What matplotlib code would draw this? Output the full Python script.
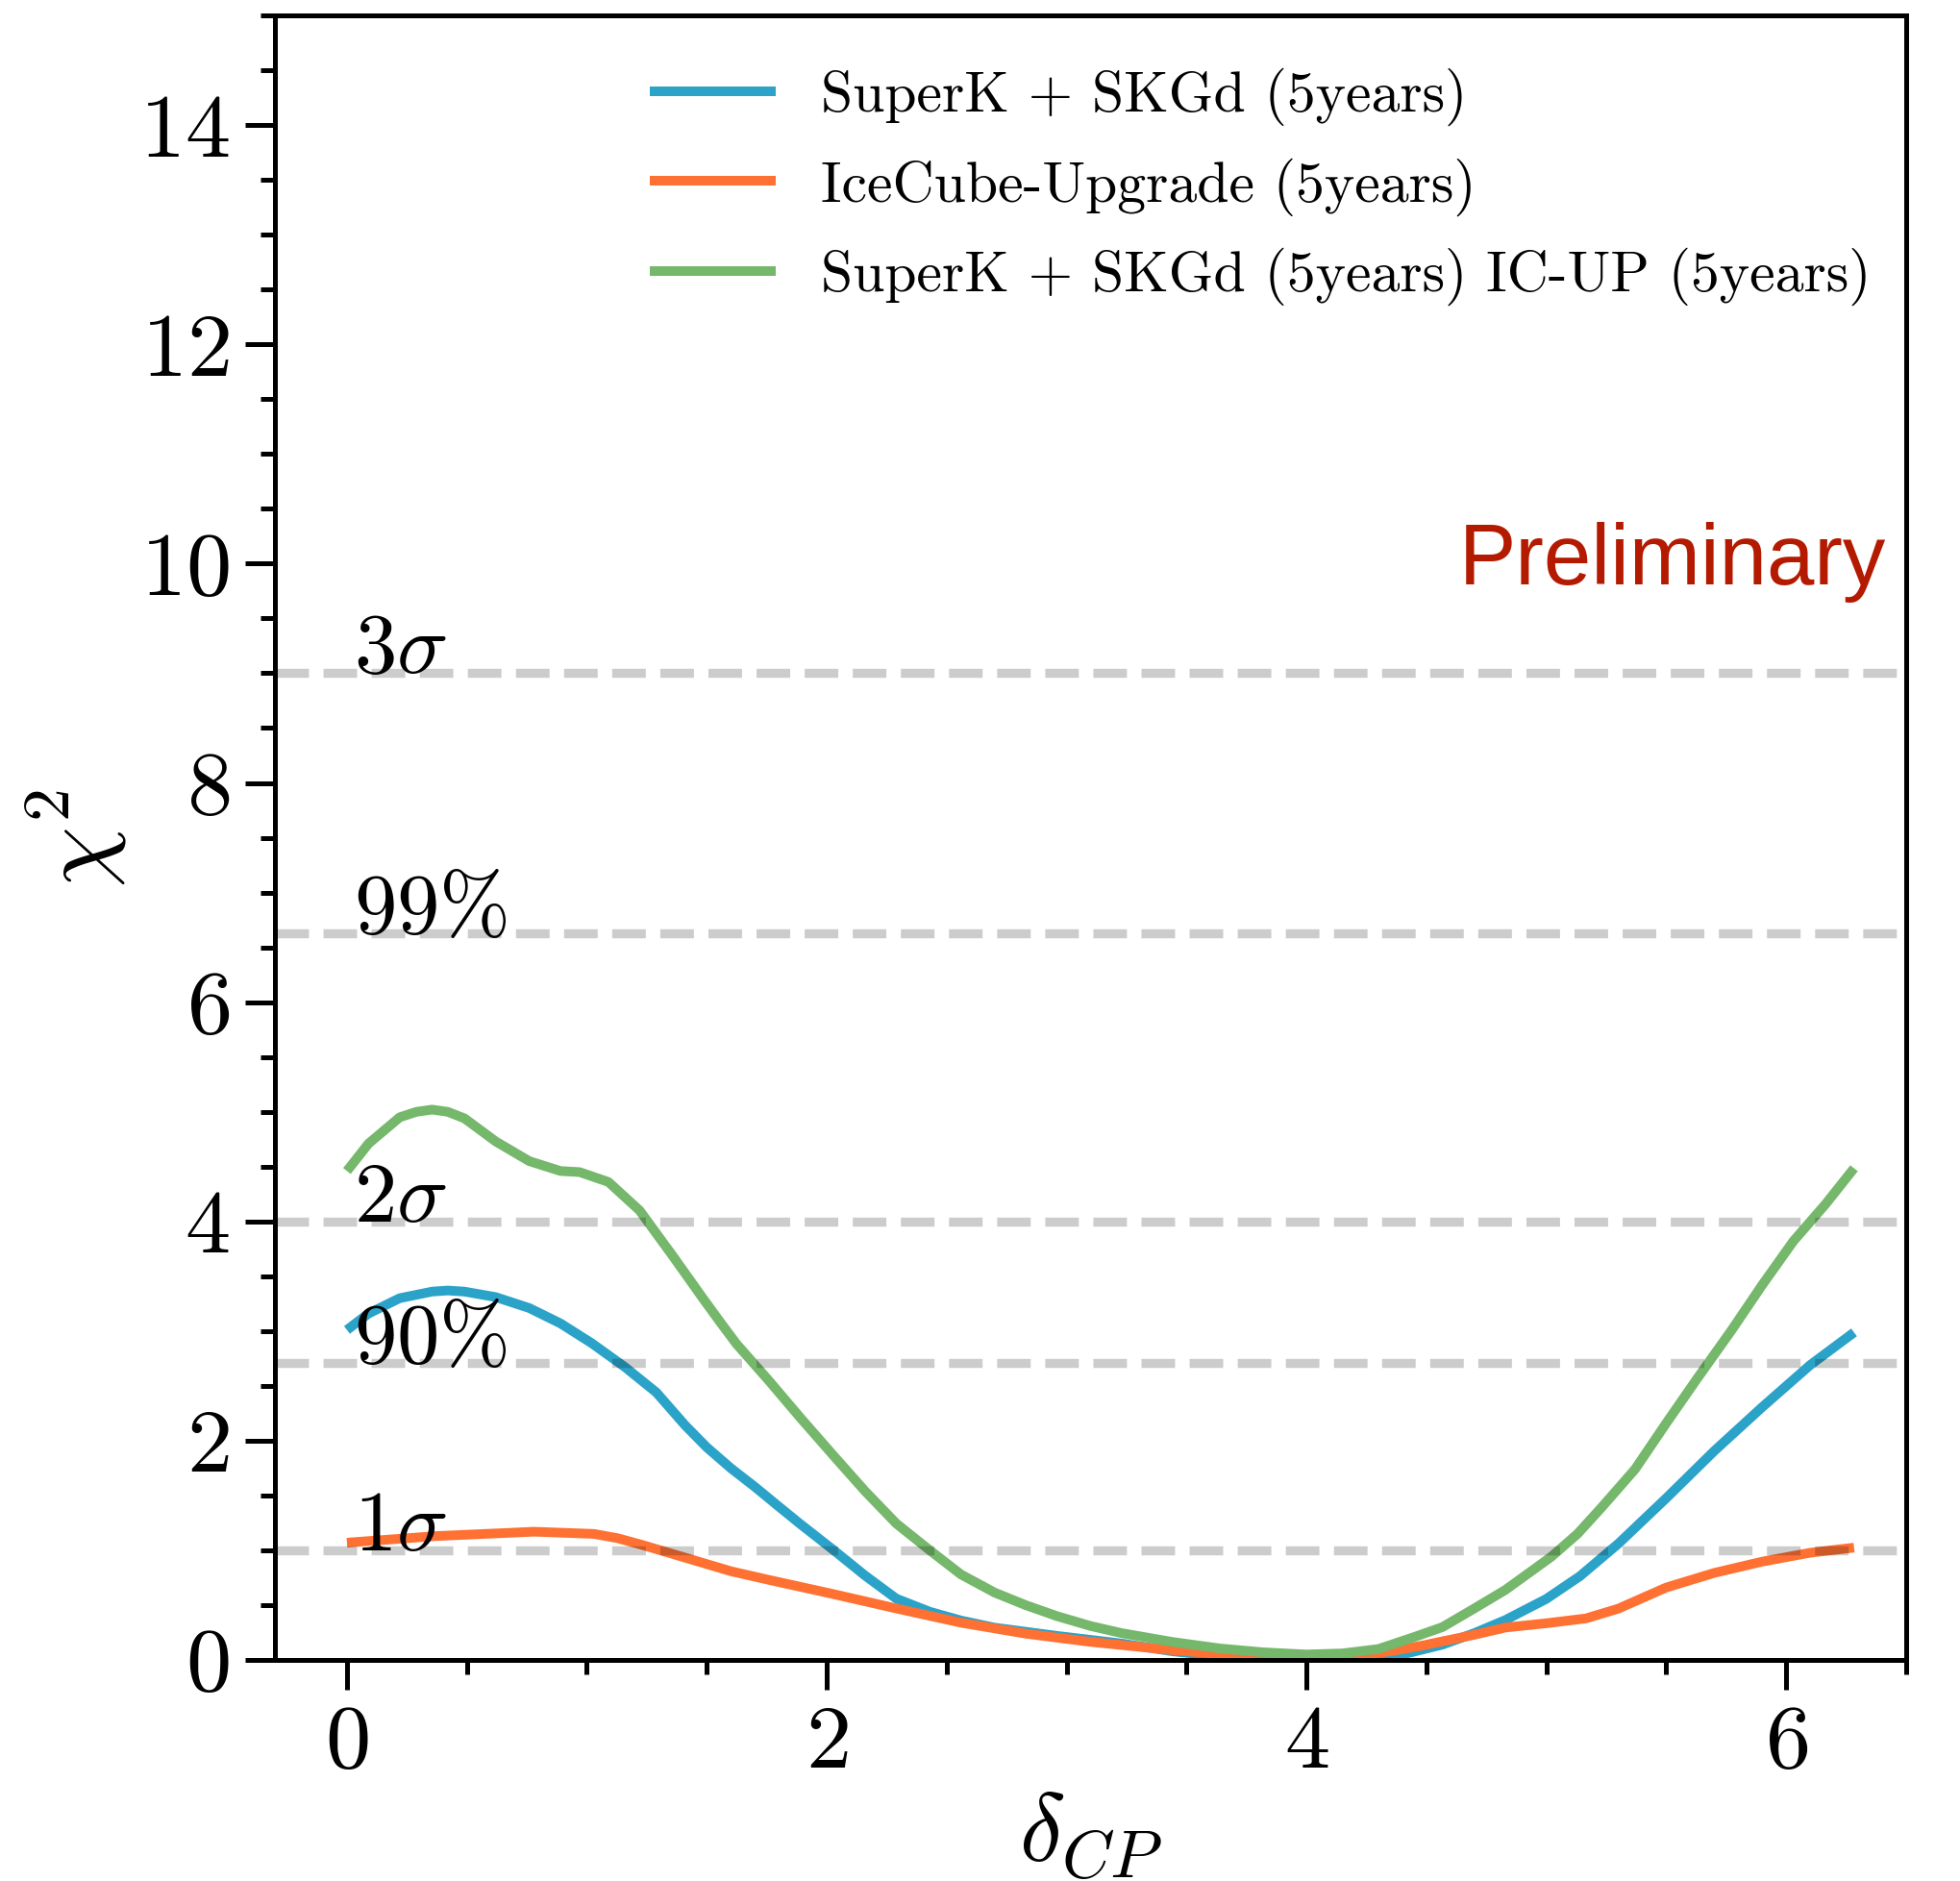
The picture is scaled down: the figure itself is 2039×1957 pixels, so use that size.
import matplotlib
matplotlib.use("Agg")
import matplotlib.pyplot as plt
from matplotlib.ticker import MultipleLocator

plt.rcParams['font.family'] = 'serif'
plt.rcParams['font.serif'] = ['cmr10']
plt.rcParams['mathtext.fontset'] = 'cm'
plt.rcParams['axes.formatter.use_mathtext'] = True

# ---- data ----
x_sk = [0.00, 0.09, 0.22, 0.355, 0.42, 0.49, 0.62, 0.76, 0.89, 1.02, 1.16, 1.29, 1.41, 1.50,
        1.60, 1.70, 1.80, 1.89, 2.03, 2.16, 2.29, 2.43, 2.56, 2.70, 2.96, 3.23, 3.44, 3.65,
        3.85, 4.05, 4.25, 4.40, 4.567, 4.70, 4.83, 5.00, 5.14, 5.30, 5.50, 5.70, 5.90, 6.10,
        6.283]
y_sk = [3.01, 3.16, 3.30, 3.36, 3.37, 3.36, 3.31, 3.21, 3.07, 2.89, 2.67, 2.44, 2.14, 1.94,
        1.75, 1.58, 1.40, 1.24, 1.00, 0.77, 0.56, 0.44, 0.36, 0.295, 0.22, 0.15, 0.08, 0.03,
        0.008, 0.0, 0.005, 0.05, 0.14, 0.245, 0.365, 0.557, 0.764, 1.06, 1.476, 1.906, 2.306, 2.69,
        2.988]

x_ic = [0.00, 0.37, 0.78, 1.03, 1.13, 1.23, 1.40, 1.60, 1.76, 2.03, 2.29, 2.56, 2.83, 3.10,
        3.44, 3.79, 4.00, 4.18, 4.35, 4.48, 4.567, 4.70, 4.83, 5.00, 5.165, 5.30, 5.50, 5.70,
        5.90, 6.10, 6.283]
y_ic = [1.07, 1.13, 1.17, 1.15, 1.11, 1.05, 0.94, 0.81, 0.73, 0.60, 0.47, 0.34, 0.24, 0.165,
        0.09, 0.03, 0.02, 0.03, 0.08, 0.13, 0.17, 0.23, 0.296, 0.335, 0.379, 0.468, 0.661, 0.794,
        0.897, 0.978, 1.025]

x_comb = [0.00, 0.09, 0.22, 0.29, 0.355, 0.42, 0.49, 0.62, 0.76, 0.89, 0.97, 1.09, 1.22, 1.36,
          1.49, 1.56, 1.625, 1.76, 1.89, 2.03, 2.16, 2.29, 2.43, 2.56, 2.70, 2.83, 2.96, 3.10,
          3.23, 3.44, 3.64, 3.82, 4.00, 4.15, 4.30, 4.45, 4.567, 4.70, 4.83, 5.02, 5.13, 5.23,
          5.37, 5.50, 5.63, 5.77, 5.90, 6.03, 6.165, 6.283]
y_comb = [4.46, 4.71, 4.95, 5.00, 5.02, 5.00, 4.94, 4.73, 4.55, 4.46, 4.45, 4.36, 4.10, 3.68,
          3.28, 3.07, 2.88, 2.545, 2.21, 1.86, 1.54, 1.245, 1.00, 0.78, 0.615, 0.50, 0.40, 0.31,
          0.245, 0.165, 0.105, 0.07, 0.05, 0.06, 0.10, 0.21, 0.30, 0.47, 0.64, 0.94, 1.15, 1.39,
          1.74, 2.16, 2.57, 3.00, 3.42, 3.82, 4.16, 4.485]

series_labels = ['SuperK + SKGd (5years)', 'IceCube-Upgrade (5years)',
                 'SuperK + SKGd (5years) IC-UP (5years)']
series_colors = ['#2ba3c9', '#ff7033', '#75b76b']

cl_levels = [1.0, 2.71, 4.0, 6.63, 9.0]
cl_labels = [r'$1\sigma$', r'$90\%$', r'$2\sigma$', r'$99\%$', r'$3\sigma$']

# ---- figure ----
fig = plt.figure(figsize=(2039 / 200, 1957 / 200), dpi=200)
ax = fig.add_axes([0.1403, 0.1175, 0.8322, 0.8743])

for xs, ys, lab, col in zip([x_sk, x_ic, x_comb], [y_sk, y_ic, y_comb], series_labels, series_colors):
    ax.plot(xs, ys, color=col, lw=3.6, label=lab, solid_capstyle='butt', solid_joinstyle='round')

for lev, lab in zip(cl_levels, cl_labels):
    ax.axhline(lev, color='k', alpha=0.2, lw=3.4, ls='--')
    ax.text(0.03, lev, lab, fontsize=32, ha='left', va='baseline', color='k')

ax.text(0.988, 0.654, 'Preliminary', transform=ax.transAxes, ha='right', va='baseline',
        fontsize=32, color='#b41a00', family='Liberation Sans')

ax.set_xlim(-0.3, 6.5)
ax.set_ylim(0, 15)
ax.xaxis.set_major_locator(MultipleLocator(2))
ax.xaxis.set_minor_locator(MultipleLocator(0.5))
ax.yaxis.set_major_locator(MultipleLocator(2))
ax.yaxis.set_minor_locator(MultipleLocator(0.5))

ax.tick_params(which='major', direction='out', length=11, width=1.8, labelsize=34, pad=6)
ax.tick_params(which='minor', direction='out', length=5.5, width=1.8)
for sp in ax.spines.values():
    sp.set_linewidth(1.8)

ax.set_xlabel(r'$\delta_{CP}$', fontsize=36, labelpad=2)
ax.set_ylabel(r'$\chi^2$', fontsize=36, labelpad=4)

ax.legend(loc='upper left', bbox_to_anchor=(0.23, 0.968), frameon=False, fontsize=21.5,
          borderaxespad=0, borderpad=0, handlelength=2.18, handletextpad=0.8, labelspacing=0.55)

fig.savefig('out.png', dpi=200)
